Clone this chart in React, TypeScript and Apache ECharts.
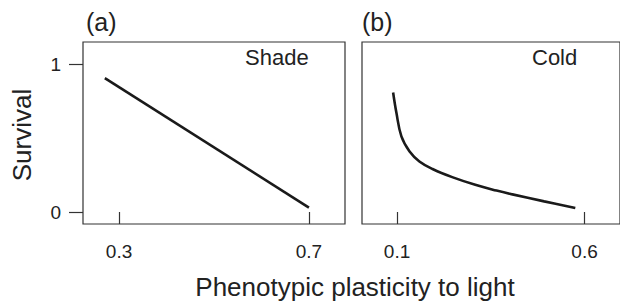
import React, { useEffect, useRef } from "react";
import * as echarts from "echarts";

const panelLabels = ["(a)", "(b)"];
const panelTitles = ["Shade", "Cold"];
const yTitle = "Survival";
const xTitle = "Phenotypic plasticity to light";

const yTicks = [0, 1];
const xTicksA = [0.3, 0.7];
const xTicksB = [0.1, 0.6];

const shadeX = [0.27, 0.7];
const shadeY = [0.905, 0.03];

const coldX = [0.0895, 0.0984, 0.1116, 0.1334, 0.1596, 0.1946, 0.2471, 0.3086, 0.3653, 0.4047, 0.4924, 0.5754];
const coldY = [0.808, 0.669, 0.511, 0.409, 0.342, 0.291, 0.236, 0.184, 0.145, 0.121, 0.072, 0.027];

const FONT = "Liberation Sans, Arial, Helvetica, sans-serif";
const TXT = "#222";
const AX = "#333";

export default function App() {
  const ref = useRef<HTMLDivElement>(null);
  useEffect(() => {
    document.body.style.margin = "0";
    if (!ref.current) return;
    const chart = echarts.init(ref.current, null, { renderer: "svg" });
    const xAxisCommon = (min: number, max: number, ticks: number[], gridIndex: number) => ({
      type: "value",
      gridIndex,
      min,
      max,
      splitLine: { show: false },
      axisLine: { show: false },
      axisTick: { show: true, inside: false, length: 12, lineStyle: { color: AX, width: 1.2 }, customValues: ticks },
      axisLabel: {
        show: true,
        margin: 18,
        color: TXT,
        fontSize: 19,
        fontFamily: FONT,
        customValues: ticks,
        formatter: (v: number) => String(v),
      },
    });
    const yAxisCommon = (gridIndex: number, showLabels: boolean) => ({
      type: "value",
      gridIndex,
      min: -0.081,
      max: 1.149,
      splitLine: { show: false },
      axisLine: { show: false },
      axisTick: { show: showLabels, length: 14, lineStyle: { color: AX, width: 1.2 }, customValues: yTicks },
      axisLabel: {
        show: showLabels,
        margin: 22,
        color: TXT,
        fontSize: 19,
        fontFamily: FONT,
        customValues: yTicks,
        formatter: (v: number) => String(v),
      },
    });
    const option = {
      animation: false,
      backgroundColor: "#fff",
      grid: [
        { left: 83, top: 42, width: 262, height: 182, show: true, borderColor: AX, borderWidth: 1.2, backgroundColor: "transparent" },
        { left: 362, top: 42, width: 262, height: 182, show: true, borderColor: AX, borderWidth: 1.2, backgroundColor: "transparent" },
      ],
      xAxis: [xAxisCommon(0.224, 0.776, xTicksA, 0), xAxisCommon(0.0065, 0.6946, xTicksB, 1)],
      yAxis: [yAxisCommon(0, true), yAxisCommon(1, false)],
      series: [
        {
          type: "line",
          xAxisIndex: 0,
          yAxisIndex: 0,
          data: shadeX.map((x, i) => [x, shadeY[i]]),
          showSymbol: false,
          lineStyle: { color: "#1a1a1a", width: 2.6 },
        },
        {
          type: "line",
          xAxisIndex: 1,
          yAxisIndex: 1,
          smooth: 0.4,
          data: coldX.map((x, i) => [x, coldY[i]]),
          showSymbol: false,
          lineStyle: { color: "#1a1a1a", width: 2.6 },
        },
      ],
      graphic: [
        { type: "text", left: 86, top: 9, style: { text: panelLabels[0], fontSize: 25, fontFamily: FONT, fill: TXT } },
        { type: "text", left: 362, top: 9, style: { text: panelLabels[1], fontSize: 25, fontFamily: FONT, fill: TXT } },
        { type: "text", left: 245, top: 46, style: { text: panelTitles[0], fontSize: 22, fontFamily: FONT, fill: TXT } },
        { type: "text", left: 532, top: 46, style: { text: panelTitles[1], fontSize: 22, fontFamily: FONT, fill: TXT } },
        {
          type: "text",
          x: 22,
          y: 135,
          rotation: Math.PI / 2,
          style: { text: yTitle, fontSize: 26, fontFamily: FONT, fill: TXT, align: "center", verticalAlign: "middle" },
        },
        {
          type: "text",
          x: 355,
          y: 287,
          style: { text: xTitle, fontSize: 26, fontFamily: FONT, fill: TXT, align: "center", verticalAlign: "middle" },
        },
      ],
    };
    chart.setOption(option as any);
    return () => chart.dispose();
  }, []);
  return <div ref={ref} style={{ width: 620, height: 306 }} />;
}
